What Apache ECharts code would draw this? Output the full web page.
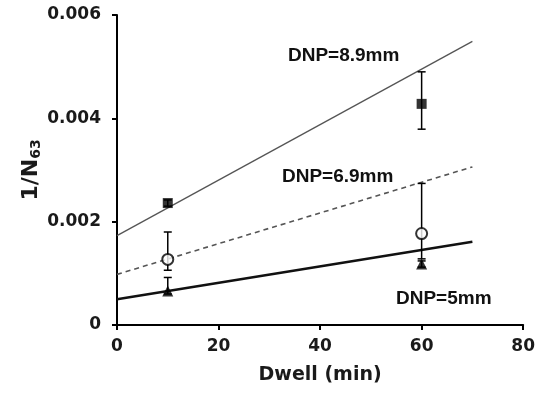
<!DOCTYPE html>
<html>
<head>
<meta charset="utf-8">
<script src="https://cdn.jsdelivr.net/npm/echarts@6/dist/echarts.min.js"></script>
<style>
html,body{margin:0;padding:0;background:#fff;}
#main{width:538px;height:394px;}
</style>
</head>
<body>
<div id="main"></div>
<script>
// dwell time (min) of measured points
var dwell = [10, 60];
// 1/N63 values and error bar ends
var sqVal = [0.00236, 0.00428];
var sqLow = [0.00230, 0.00379];
var sqHigh = [0.00242, 0.00490];
var circVal = [0.00127, 0.00177];
var circLow = [0.00106, 0.00128];
var circHigh = [0.00180, 0.00274];
var triVal = [0.00066, 0.00118];
var triLow = [0.00060, 0.00112];
var triHigh = [0.00092, 0.00124];
// fitted lines
var lineX = [0, 70];
var line89 = [0.00173, 0.00549];
var line69 = [0.00098, 0.00306];
var line5 = [0.00050, 0.00161];

var chart = echarts.init(document.getElementById('main'));

function pairs(xs, ys) {
    return xs.map(function (x, i) { return [x, ys[i]]; });
}
function errData(lo, hi) {
    return dwell.map(function (x, i) { return [x, lo[i], hi[i]]; });
}
function renderErr(params, api) {
    var x = api.value(0);
    var p1 = api.coord([x, api.value(1)]);
    var p2 = api.coord([x, api.value(2)]);
    var w = 4;
    var st = {stroke: '#000', lineWidth: 1.5};
    return {
        type: 'group',
        children: [
            {type: 'line', shape: {x1: p1[0], y1: p1[1], x2: p2[0], y2: p2[1]}, style: st},
            {type: 'line', shape: {x1: p1[0] - w, y1: p1[1], x2: p1[0] + w, y2: p1[1]}, style: st},
            {type: 'line', shape: {x1: p2[0] - w, y1: p2[1], x2: p2[0] + w, y2: p2[1]}, style: st}
        ]
    };
}
function lineSeries(data, style) {
    return {
        type: 'line', data: pairs(lineX, data), symbol: 'none',
        lineStyle: style, silent: true, animation: false, z: 2
    };
}

var labelFont = 'bold 19px "Liberation Sans", Arial, sans-serif';

chart.setOption({
    animation: false,
    grid: {left: 117, right: 12, top: 15, bottom: 69},
    xAxis: {
        type: 'value', min: 0, max: 80, interval: 20,
        name: 'Dwell (min)', nameLocation: 'middle', nameGap: 41,
        nameTextStyle: {fontFamily: 'DejaVu Sans', fontWeight: 'bold', fontSize: 19, color: '#1a1a1a'},
        axisLine: {lineStyle: {color: '#000', width: 2}},
        axisTick: {length: 5, lineStyle: {color: '#000', width: 2}},
        axisLabel: {fontFamily: 'DejaVu Sans', fontWeight: 'bold', fontSize: 17, color: '#1a1a1a', margin: 13},
        splitLine: {show: false}
    },
    yAxis: {
        type: 'value', min: 0, max: 0.006, interval: 0.002,
        name: '{a|1/N}{b|63}', nameLocation: 'middle', nameGap: 74, nameRotate: 90,
        nameMoveOverlap: false,
        nameTextStyle: {
            rich: {
                a: {fontFamily: 'DejaVu Sans', fontWeight: 'bold', fontSize: 22, color: '#1a1a1a'},
                b: {fontFamily: 'DejaVu Sans', fontWeight: 'bold', fontSize: 14, color: '#1a1a1a', padding: [10, 0, 0, 0]}
            }
        },
        axisLine: {show: true, lineStyle: {color: '#000', width: 2}},
        axisTick: {show: true, length: 5, lineStyle: {color: '#000', width: 2}},
        axisLabel: {
            fontFamily: 'DejaVu Sans', fontWeight: 'bold', fontSize: 17, color: '#1a1a1a', margin: 16,
            formatter: function (v) { return v === 0 ? '0' : v.toFixed(3); }
        },
        splitLine: {show: false}
    },
    series: [
        lineSeries(line89, {color: '#555', width: 1.3}),
        lineSeries(line69, {color: '#555', width: 1.6, type: [5, 4]}),
        lineSeries(line5, {color: '#111', width: 2.5}),
        {type: 'custom', renderItem: renderErr, data: errData(sqLow, sqHigh), z: 3},
        {type: 'custom', renderItem: renderErr, data: errData(circLow, circHigh), z: 3},
        {type: 'custom', renderItem: renderErr, data: errData(triLow, triHigh), z: 3},
        {type: 'scatter', data: pairs(dwell, sqVal), symbol: 'rect', symbolSize: 10,
            itemStyle: {color: '#000'}, z: 4},
        {type: 'scatter', data: pairs(dwell, circVal), symbol: 'circle', symbolSize: 11,
            itemStyle: {color: '#fff', borderColor: '#000', borderWidth: 2}, z: 4},
        {type: 'scatter', data: pairs(dwell, triVal), symbol: 'triangle', symbolSize: 11,
            itemStyle: {color: '#000'}, z: 4}
    ],
    graphic: [
        {type: 'text', left: 288, top: 46, style: {text: 'DNP=8.9mm', font: labelFont, fill: '#111'}},
        {type: 'text', left: 282, top: 167, style: {text: 'DNP=6.9mm', font: labelFont, fill: '#111'}},
        {type: 'text', left: 396, top: 289, style: {text: 'DNP=5mm', font: labelFont, fill: '#111'}}
    ]
});
</script>
</body>
</html>
